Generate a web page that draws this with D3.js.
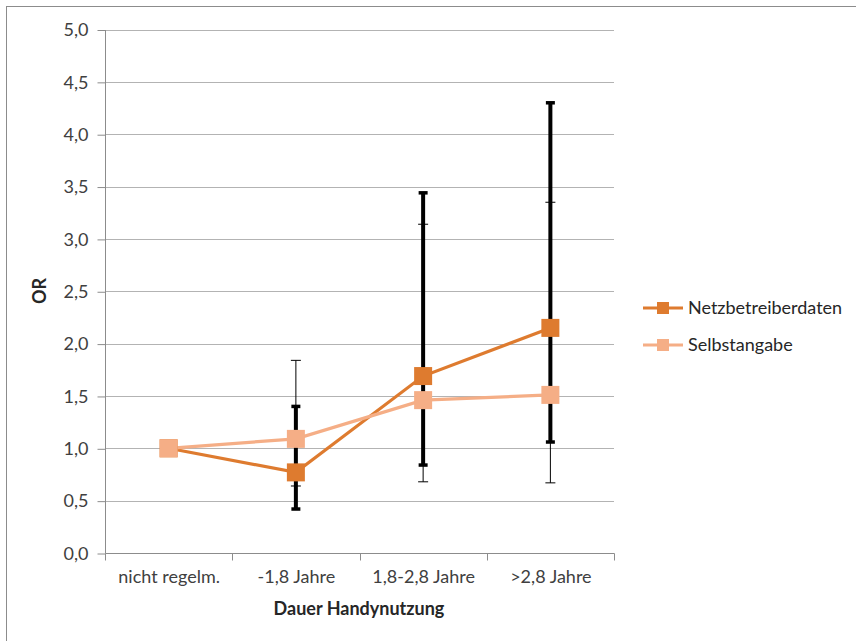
<!DOCTYPE html>
<html><head><meta charset="utf-8">
<script src="https://cdn.jsdelivr.net/npm/d3@7"></script>
<style>
body{margin:0;background:#fff;}
text{font-family:Lato,"Open Sans",sans-serif;}
</style></head>
<body><svg id="c" width="856" height="641"></svg>
<script>
const categories = ["nicht regelm.", "-1,8 Jahre", "1,8-2,8 Jahre", ">2,8 Jahre"];
const seriesNames = ["Netzbetreiberdaten", "Selbstangabe"];
const netzValues = [1.0, 0.77, 1.69, 2.15];
const netzLow = [null, 0.42, 0.84, 1.06];
const netzHigh = [null, 1.40, 3.44, 4.30];
const selbstValues = [1.0, 1.09, 1.46, 1.51];
const selbstLow = [null, 0.64, 0.68, 0.67];
const selbstHigh = [null, 1.84, 3.14, 3.35];
const yTicks = [0, 0.5, 1, 1.5, 2, 2.5, 3, 3.5, 4, 4.5, 5];
const colors = ["#DE7B2F", "#F5AE86"];

const FS = 18;
const svg = d3.select("#c");
svg.append("rect").attr("x",6.5).attr("y",6.5).attr("width",900).attr("height",700)
  .attr("fill","none").attr("stroke","#8c8c8c").attr("stroke-width",1);

const L=105, R=614, T=29.5, B=553;
const x = d3.scaleBand().domain(categories).range([L,R]);
const y = d3.scaleLinear().domain([0,5]).range([B,T]);
const cx = d => x(d)+x.bandwidth()/2;

// grid
svg.append("g").selectAll("line").data(yTicks.slice(1)).join("line")
  .attr("x1",L).attr("x2",R).attr("y1",d=>Math.round(y(d))+0.5).attr("y2",d=>Math.round(y(d))+0.5)
  .attr("stroke","#b3b3b3").attr("stroke-width",1.2);

// y axis
const fmt = d => d3.format(".1f")(d).replace(".", ",");
const ya = svg.append("g").attr("transform",`translate(${L+0.5},0.5)`)
  .call(d3.axisLeft(y).tickValues(yTicks).tickSize(8).tickPadding(9).tickFormat(fmt));
ya.selectAll("path,line").attr("stroke","#8c8c8c");
ya.selectAll("text").attr("font-size",FS).attr("fill","#404040").attr("font-family","Lato");
ya.select(".domain").attr("d",`M0,${T}V${B}`);

// x axis
const xa = svg.append("g").attr("transform",`translate(0.5,${Math.round(B)+0.5})`)
  .call(d3.axisBottom(x).tickSize(0).tickPadding(17));
xa.selectAll("text").attr("font-size",FS).attr("fill","#404040").attr("font-family","Lato");
xa.select(".domain").attr("d",`M${L},0H${R}`).attr("stroke","#8c8c8c");
xa.selectAll(".bt").data(categories.concat(["end"])).join("line")
  .attr("x1",(d,i)=>Math.round(i<categories.length?x(d):R))
  .attr("x2",(d,i)=>Math.round(i<categories.length?x(d):R))
  .attr("y1",0).attr("y2",7).attr("stroke","#8c8c8c");

// axis titles
svg.append("text").attr("x",359).attr("y",615).attr("text-anchor","middle")
  .attr("font-size",FS).attr("font-weight","bold").attr("fill","#262626").text("Dauer Handynutzung");
svg.append("text").attr("transform","translate(46,291) rotate(-90)").attr("text-anchor","middle")
  .attr("font-size",FS).attr("font-weight","bold").attr("fill","#262626").text("OR");

// error bars
function errBars(low, high, w, capW, capH){
  const g = svg.append("g");
  categories.forEach((c,i)=>{
    if(low[i]==null) return;
    const xc = cx(c);
    g.append("line").attr("x1",xc).attr("x2",xc).attr("y1",y(low[i])).attr("y2",y(high[i]))
      .attr("stroke","#000").attr("stroke-width",w);
    [low[i],high[i]].forEach(v=>{
      g.append("line").attr("x1",xc-capW/2).attr("x2",xc+capW/2).attr("y1",y(v)).attr("y2",y(v))
        .attr("stroke","#000").attr("stroke-width",capH);
    });
  });
}
errBars(selbstLow, selbstHigh, 1, 10, 1);
errBars(netzLow, netzHigh, 4, 9, 3.5);

// lines & markers
const seriesVals = [netzValues, selbstValues];
[0,1].forEach(si=>{
  const vals = seriesVals[si];
  const line = d3.line().x((d,i)=>cx(categories[i])).y(d=>y(d));
  svg.append("path").attr("d",line(vals)).attr("fill","none")
    .attr("stroke",colors[si]).attr("stroke-width",3.2);
});
[0,1].forEach(si=>{
  const vals = seriesVals[si];
  svg.append("g").selectAll("rect").data(vals).join("rect")
    .attr("x",(d,i)=>cx(categories[i])-9).attr("y",d=>y(d)-9)
    .attr("width",18).attr("height",18).attr("fill",colors[si]);
});

// legend
const lg = svg.append("g");
seriesNames.forEach((n,i)=>{
  const ly = 308 + i*37;
  lg.append("line").attr("x1",643).attr("x2",683).attr("y1",ly).attr("y2",ly)
    .attr("stroke",colors[i]).attr("stroke-width",3.2);
  lg.append("rect").attr("x",657).attr("y",ly-6).attr("width",12).attr("height",12).attr("fill",colors[i]);
  lg.append("text").attr("x",688).attr("y",ly).attr("dy","0.35em").attr("font-size",FS)
    .attr("fill","#262626").text(n);
});
</script></body></html>
